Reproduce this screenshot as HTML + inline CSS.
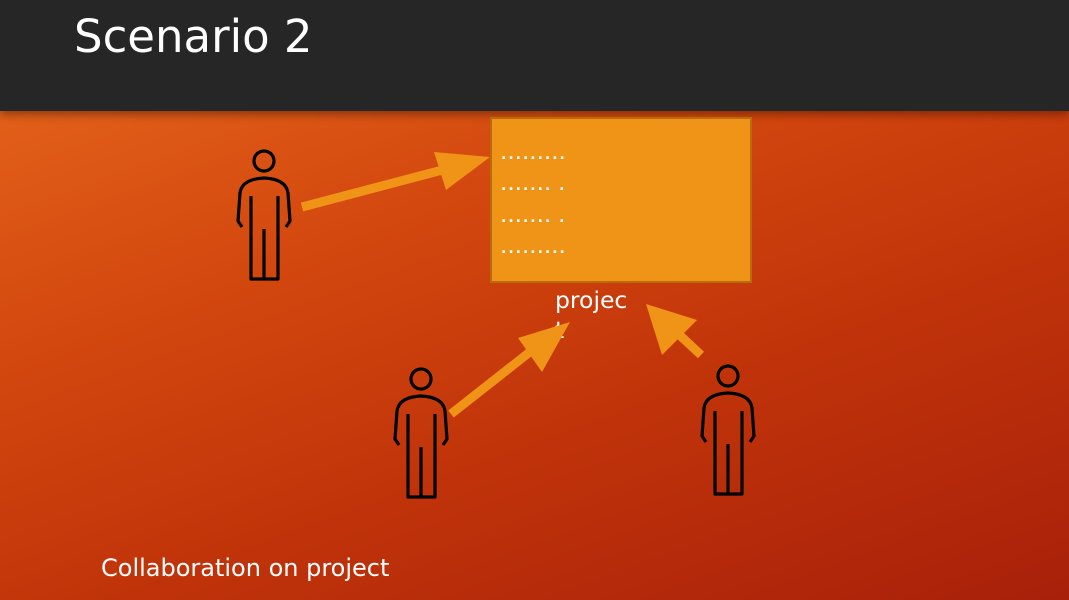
<!DOCTYPE html>
<html><head><meta charset="utf-8"><style>
html,body{margin:0;padding:0}
body{width:1069px;height:600px;overflow:hidden;position:relative;font-family:"Liberation Sans","DejaVu Sans",sans-serif;
background:linear-gradient(160deg,#e86a1e 0%,#d4490f 35%,#c0330a 65%,#a8200a 100%);}
.hdr{position:absolute;left:0;top:0;width:1069px;height:111px;background:#262626;box-shadow:0 4px 8px rgba(0,0,0,0.35)}
.title{position:absolute;left:74px;top:9px;color:#fff;font-size:45px;line-height:56px;font-family:"DejaVu Sans","Liberation Sans",sans-serif}
.box{position:absolute;left:490px;top:117px;width:258px;height:162px;background:#ef9416;border:2px solid #b86c0c}
.dots{position:absolute;left:9px;color:#fff;font-size:14px;letter-spacing:2px;font-weight:bold;font-family:"DejaVu Sans",sans-serif}
.proj{position:absolute;left:555px;top:285px;color:#fff;font-size:23.5px;line-height:30px;font-family:"DejaVu Sans","Liberation Sans",sans-serif;width:80px}
.cap{position:absolute;left:101px;top:554px;color:#fff;font-size:24px;font-family:"DejaVu Sans","Liberation Sans",sans-serif}
svg{position:absolute;left:0;top:0}
</style></head><body>
<div class="hdr"><div class="title">Scenario 2</div></div>
<div class="box">
<div class="dots" style="top:28px">.........</div>
<div class="dots" style="top:59px">....... .</div>
<div class="dots" style="top:91px">....... .</div>
<div class="dots" style="top:122px">.........</div>
</div>
<div class="proj">projec<br>t</div>
<svg width="1069" height="600">
<defs>
<g id="p" fill="none" stroke="#000" stroke-width="3.2" stroke-linejoin="round">
<circle cx="0" cy="0" r="10"/>
<path d="M-22,66 L-26,60 L-24,32 Q-22,18 0,17 Q22,18 24,32 L26,60 L22,66"/>
<path d="M-13,35 L-13,118 L14,118 L14,35 M0,68 L0,118"/>
</g>
</defs>
<use href="#p" x="264" y="161"/>
<use href="#p" x="421" y="379"/>
<use href="#p" x="728" y="376"/>
<g fill="#ef9416">
<line x1="302" y1="207" x2="450" y2="168" stroke="#ef9416" stroke-width="9"/>
<polygon points="490,157 434,152 446,190"/>
<line x1="451" y1="414" x2="540" y2="344" stroke="#ef9416" stroke-width="9"/>
<polygon points="570,322 518,338 542,372"/>
<line x1="701" y1="355" x2="672" y2="328" stroke="#ef9416" stroke-width="9"/>
<polygon points="646,304 662,355 697,320"/>
</g>
</svg>
<div class="cap">Collaboration on project</div>
</body></html>
